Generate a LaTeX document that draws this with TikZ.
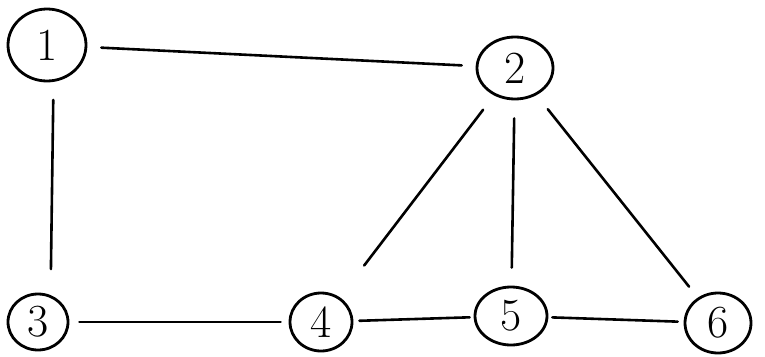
\documentclass[tikz,border=0pt]{standalone}
\usetikzlibrary{shapes.geometric}
\begin{document}
\begin{tikzpicture}[x=1pt,y=-1pt,
  vtx/.style={draw,ellipse,line width=2.8pt,inner sep=0pt,font=\fontsize{46}{46}\selectfont},
  edge/.style={line width=2.6pt,line cap=round,shorten >=14pt,shorten <=14pt}]
\useasboundingbox (0,0) rectangle (765,356);
\node[vtx,minimum width=78pt,minimum height=72pt] (n1) at (47,45) {1};
\node[vtx,minimum width=76pt,minimum height=62pt] (n2) at (515,68) {2};
\node[vtx,minimum width=60pt,minimum height=56pt] (n3) at (38,322) {3};
\node[vtx,minimum width=62pt,minimum height=58pt] (n4) at (321,322) {4};
\node[vtx,minimum width=72pt,minimum height=58pt] (n5) at (511,316) {5};
\node[vtx,minimum width=66pt,minimum height=60pt] (n6) at (718,323) {6};
\draw[edge] (n1) -- (n2);
\draw[edge,shorten <=18pt,shorten >=26pt] (n1.-80) -- (n3.65);
\draw[edge,shorten <=10pt,shorten >=8pt] (n3) -- (n4);
\draw[edge,shorten <=6pt,shorten >=4pt] (n4) -- (n5);
\draw[edge,shorten <=4pt,shorten >=6pt] (n5) -- (n6);
\draw[edge,shorten <=18pt,shorten >=40pt] (n2) -- (n4);
\draw[edge,shorten <=18pt,shorten >=18pt] (n2) -- (n5);
\draw[edge,shorten <=18pt,shorten >=14pt] (n2) -- (n6);
\end{tikzpicture}
\end{document}
